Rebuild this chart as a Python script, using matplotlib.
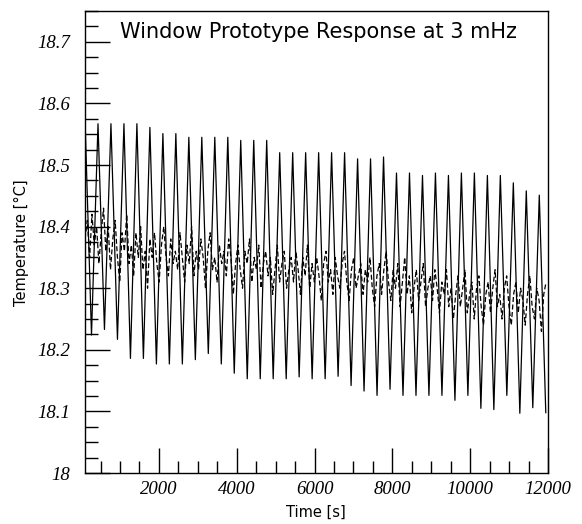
import numpy as np
import matplotlib.pyplot as plt
from matplotlib.ticker import MultipleLocator

# drive temperature: turning points of the 3 mHz oscillation (time in s)
swing_t = [100, 267, 434, 600, 767, 934, 1101, 1268, 1434, 1601,
           1768, 1935, 2102, 2268, 2435, 2602, 2769, 2936, 3102, 3269,
           3436, 3603, 3770, 3936, 4103, 4270, 4437, 4604, 4770, 4937,
           5104, 5271, 5438, 5604, 5771, 5938, 6105, 6272, 6438, 6605,
           6772, 6939, 7106, 7272, 7439, 7606, 7773, 7940, 8106, 8273,
           8440, 8607, 8774, 8940, 9107, 9274, 9441, 9608, 9774, 9941,
           10108, 10275, 10442, 10608, 10775, 10942, 11109, 11276, 11442, 11609,
           11776, 11943]
peaks = [18.575, 18.567, 18.567, 18.567, 18.567, 18.561, 18.551, 18.551, 18.545, 18.545,
         18.545, 18.545, 18.540, 18.540, 18.540, 18.520, 18.520, 18.520, 18.520, 18.520,
         18.520, 18.510, 18.510, 18.513, 18.487, 18.487, 18.483, 18.487, 18.483, 18.487,
         18.487, 18.483, 18.483, 18.471, 18.458, 18.451]
troughs = [18.224, 18.233, 18.217, 18.186, 18.186, 18.177, 18.177, 18.177, 18.184, 18.194,
           18.177, 18.162, 18.153, 18.153, 18.153, 18.153, 18.156, 18.153, 18.153, 18.157,
           18.142, 18.133, 18.126, 18.136, 18.126, 18.126, 18.126, 18.126, 18.118, 18.126,
           18.105, 18.103, 18.126, 18.097, 18.106, 18.098]

# window response, sampled every ~60 s
response = [18.38, 18.41, 18.35, 18.42, 18.37, 18.40, 18.34, 18.39, 18.43, 18.36,
            18.40, 18.33, 18.38, 18.41, 18.35, 18.31, 18.39, 18.36, 18.42, 18.34,
            18.37, 18.32, 18.39, 18.35, 18.40, 18.33, 18.36, 18.30, 18.38, 18.35,
            18.39, 18.34, 18.31, 18.37, 18.40, 18.35, 18.32, 18.38, 18.34, 18.36,
            18.33, 18.39, 18.35, 18.31, 18.37, 18.34, 18.40, 18.32, 18.36, 18.33,
            18.38, 18.35, 18.30, 18.36, 18.39, 18.33, 18.35, 18.31, 18.37, 18.34,
            18.36, 18.32, 18.38, 18.35, 18.29, 18.34, 18.37, 18.33, 18.30, 18.36,
            18.34, 18.38, 18.31, 18.35, 18.33, 18.37, 18.30, 18.34, 18.36, 18.32,
            18.35, 18.29, 18.33, 18.37, 18.31, 18.34, 18.36, 18.30, 18.33, 18.35,
            18.31, 18.36, 18.33, 18.29, 18.35, 18.32, 18.37, 18.30, 18.34, 18.31,
            18.35, 18.32, 18.28, 18.34, 18.36, 18.31, 18.33, 18.29, 18.35, 18.32,
            18.30, 18.34, 18.36, 18.31, 18.28, 18.33, 18.35, 18.30, 18.32, 18.34,
            18.29, 18.33, 18.31, 18.35, 18.30, 18.27, 18.32, 18.34, 18.29, 18.33,
            18.36, 18.31, 18.28, 18.33, 18.30, 18.34, 18.27, 18.31, 18.35, 18.29,
            18.32, 18.26, 18.30, 18.33, 18.28, 18.31, 18.34, 18.27, 18.30, 18.32,
            18.28, 18.33, 18.30, 18.26, 18.31, 18.29, 18.33, 18.27, 18.30, 18.25,
            18.29, 18.32, 18.27, 18.30, 18.33, 18.26, 18.29, 18.31, 18.25, 18.30,
            18.32, 18.27, 18.24, 18.29, 18.31, 18.26, 18.30, 18.33, 18.27, 18.29,
            18.25, 18.30, 18.32, 18.27, 18.24, 18.29, 18.31, 18.26, 18.30, 18.28,
            18.24, 18.29, 18.32, 18.27, 18.25, 18.30, 18.28, 18.23, 18.29, 18.31]

# peaks and troughs alternate, starting on a peak
drive = []
for p, q in zip(peaks, troughs):
    drive += [p, q]
resp_t = np.linspace(100, 11950, len(response))

fig = plt.figure(figsize=(5.82, 5.24), dpi=100)
ax = fig.add_axes([85/582, 51/524, 463/582, 462/524])

ax.plot(swing_t, drive, color="black", linewidth=0.9)
ax.plot(resp_t, response, color="black", linewidth=0.9, linestyle=(0, (4, 2)))

ax.set_xlim(100, 12000)
ax.set_ylim(18.0, 18.75)

ax.xaxis.set_major_locator(MultipleLocator(2000))
ax.xaxis.set_minor_locator(MultipleLocator(500))
ax.yaxis.set_major_locator(MultipleLocator(0.1))
ax.yaxis.set_minor_locator(MultipleLocator(0.025))
ax.tick_params(which="both", direction="in", top=False, right=False, width=1)
ax.tick_params(which="major", length=18)
ax.tick_params(which="minor", length=9)
ax.tick_params(axis="x", which="major", pad=6)
ax.tick_params(axis="y", which="major", pad=11)
ax.set_yticks([18.0, 18.1, 18.2, 18.3, 18.4, 18.5, 18.6, 18.7])
ax.set_yticklabels(["18", "18.1", "18.2", "18.3", "18.4", "18.5", "18.6", "18.7"])
for lbl in ax.get_xticklabels() + ax.get_yticklabels():
    lbl.set_fontfamily("Liberation Serif")
    lbl.set_fontstyle("italic")
    lbl.set_fontsize(13.5)
for s in ax.spines.values():
    s.set_linewidth(1.0)

ax.text(0.0756, 0.9545, "Window Prototype Response at 3 mHz", transform=ax.transAxes,
        ha="left", va="center", fontsize=15, family="DejaVu Sans")
fig.text(316/582, 1 - 512/524, "Time [s]", ha="center", va="center", fontsize=10.5)
fig.text(21/582, 1 - 243/524, "Temperature [°C]", ha="center", va="center",
         rotation=90, fontsize=10.5)

plt.savefig("out.png", dpi=100)
